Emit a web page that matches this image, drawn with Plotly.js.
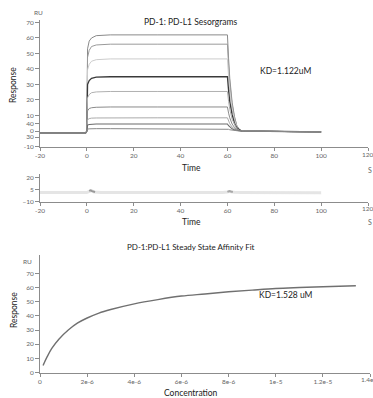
<!DOCTYPE html>
<html>
<head>
<meta charset="utf-8">
<script src="https://cdn.plot.ly/plotly-3.0.1.min.js"></script>
<style>html,body{margin:0;padding:0;background:#fff;overflow:hidden;}#chart{width:373px;height:398px;}</style>
</head>
<body>
<div id="chart"></div>
<script>
// ---- Sensorgram data (time in s, response in RU) ----
const sensTime = [-20, -0.5, 0, 0.3, 1, 2, 4, 10, 30, 60, 60.5, 61, 62, 63, 64, 65, 66, 100];
const sens62   = [-1.2, -1.2, 0, 53, 58, 60, 61.5, 62, 62, 62, 46.5, 34, 18.5, 9.5, 3.5, 1, 0, -0.6];
const sens56   = [-1.2, -1.2, 0, 47.5, 52, 54.5, 55.5, 56, 56, 56, 42, 31, 17, 8.5, 3.5, 1, 0, -0.6];
const sens46   = [-1.2, -1.2, 0, 39.5, 43, 45, 46, 46.5, 46.5, 46.5, 35, 25.5, 14, 7, 3, 1, 0, -0.6];
const sens35   = [-1.2, -1.2, 0, 30, 32.5, 34, 34.7, 35, 35, 35, 26, 19, 10.5, 5, 2, 0.7, 0, -0.6];
const sens25   = [-1.2, -1.2, 0, 21.5, 23.5, 24.7, 25.2, 25.5, 25.5, 25.5, 19, 14, 7.5, 4, 1.5, 0.5, 0, -0.6];
const sens15   = [-1.2, -1.2, 0, 13, 14.5, 15, 15.3, 15.5, 15.5, 15.5, 11.5, 8.5, 4.5, 2.3, 1, 0.3, 0, -0.6];
const sens8    = [-1.2, -1.2, 0, 7.2, 8, 8.3, 8.4, 8.5, 8.5, 8.5, 6.4, 4.7, 2.5, 1.3, 0.5, 0.2, 0, -0.6];
const sens4    = [-1.2, -1.2, 0, 3.8, 4.2, 4.4, 4.5, 4.5, 4.5, 4.5, 3.4, 2.5, 1.4, 0.7, 0.3, 0.1, 0, -0.6];
const sens1    = [-1.2, -1.2, 0, 1.2, 1.4, 1.5, 1.5, 1.5, 1.5, 1.5, 1.1, 0.8, 0.5, 0.2, 0.1, 0, 0, -0.6];
const sensSeries = [sens62, sens56, sens46, sens35, sens25, sens15, sens8, sens4, sens1];

// top y-axis tick labels as printed
const topTickVals = [70, 60, 50, 40, 30, 20, 10, 5, 0, -4, -10];
const topTickText = ["70", "60", "50", "40", "30", "20", "10", "40", "0", "30", "-10"];
const timeTickVals = [-20, 0, 20, 40, 60, 80, 100, 120];
const timeTickText = ["-20", "0", "20", "40", "60", "80", "100", "120"];

// ---- Residuals ----
const resTime = [-20, -10, 0, 1, 2, 3, 4, 6, 10, 20, 30, 40, 50, 58, 60, 61, 62, 63, 66, 70, 80, 90, 100];
const resVal  = [1.2, 1.3, 1.2, 2.5, 3.5, 2.0, 1.5, 1.4, 1.3, 1.2, 1.2, 1.0, 1.1, 1.3, 1.8, 2.6, 2.0, 1.6, 1.4, 1.3, 1.2, 1.1, 1.0];
const resBlobTime = [1, 1.6, 2.2, 2.8, 3.5, 60, 60.8, 61.5, 62.3];
const resBlobVal  = [3.2, 4.0, 3.0, 2.2, 1.8, 2.0, 3.0, 2.4, 1.8];
const resTickVals = [20, 5, -10];

// ---- Steady state affinity fit ----
const conc = [0.13e-6, 0.3e-6, 0.5e-6, 0.8e-6, 1.2e-6, 1.6e-6, 2e-6, 2.5e-6, 3e-6, 4e-6, 5e-6, 6e-6, 7e-6, 8e-6, 9e-6, 1e-5, 1.1e-5, 1.2e-5, 1.34e-5];
const fitResp = [5, 11, 17, 23.5, 30, 35, 38.5, 42, 44.5, 48.5, 51.5, 54, 55.5, 57, 58.2, 59.3, 60, 60.6, 61.3];
const concTickVals = [0, 2e-6, 4e-6, 6e-6, 8e-6, 1e-5, 1.2e-5, 1.4e-5];
const concTickText = ["0", "2e-6", "4e-6", "6e-6", "8e-6", "1e-5", "1.2e-5", "1.4e-5"];
const respTickVals = [0, 10, 20, 30, 40, 50, 60, 70];

const W = 373, H = 398;
const px = x => x / W;
const py = y => 1 - y / H;

const sensColors = ['#8a8a8a', '#9a9a9a', '#cccccc', '#3a3a3a', '#b0b0b0', '#8a8a8a', '#aaaaaa', '#6a6a6a', '#888888'];
const sensWidths = [1, 1, 1, 1.3, 1, 1, 1, 1.1, 1];

const traces = [];
sensSeries.forEach((s, i) => {
  traces.push({x: sensTime, y: s, type: 'scatter', mode: 'lines', xaxis: 'x', yaxis: 'y',
    line: {color: sensColors[i], width: sensWidths[i]}, hoverinfo: 'skip'});
});
traces.push({x: resTime, y: resVal, type: 'scatter', mode: 'lines', xaxis: 'x2', yaxis: 'y2',
  line: {color: 'rgba(170,170,170,0.3)', width: 3}, hoverinfo: 'skip'});
traces.push({x: resBlobTime.slice(0,5), y: resBlobVal.slice(0,5), type: 'scatter', mode: 'lines', xaxis: 'x2', yaxis: 'y2',
  line: {color: 'rgba(90,90,90,0.55)', width: 2}, hoverinfo: 'skip'});
traces.push({x: resBlobTime.slice(5), y: resBlobVal.slice(5), type: 'scatter', mode: 'lines', xaxis: 'x2', yaxis: 'y2',
  line: {color: 'rgba(90,90,90,0.45)', width: 2}, hoverinfo: 'skip'});
traces.push({x: conc, y: fitResp, type: 'scatter', mode: 'lines', xaxis: 'x3', yaxis: 'y3',
  line: {color: '#707070', width: 1.4, shape: 'spline'}, hoverinfo: 'skip'});

const tickFont = {family: 'Lato, sans-serif', size: 6.5, color: '#666'};
const axBase = {showline: true, linecolor: '#8c8c8c', linewidth: 1, showgrid: false, zeroline: false,
  ticks: 'outside', ticklen: 3, tickcolor: '#8c8c8c', tickwidth: 1, tickfont: tickFont, fixedrange: true};

const layout = {
  width: W, height: H, margin: {l: 0, r: 0, t: 0, b: 0},
  paper_bgcolor: '#fff', plot_bgcolor: '#fff', showlegend: false,
  xaxis: Object.assign({}, axBase, {domain: [px(40), px(368)], range: [-20, 120], anchor: 'y',
    tickmode: 'array', tickvals: timeTickVals, ticktext: timeTickText}),
  yaxis: Object.assign({}, axBase, {domain: [py(146.5), py(20)], range: [-10, 71.6], anchor: 'x',
    tickmode: 'array', tickvals: topTickVals, ticktext: topTickText, ticklen: 4}),
  xaxis2: Object.assign({}, axBase, {domain: [px(40), px(368)], range: [-20, 120], anchor: 'y2',
    tickmode: 'array', tickvals: timeTickVals, ticktext: timeTickText}),
  yaxis2: Object.assign({}, axBase, {domain: [py(201.5), py(173.5)], range: [-10, 25], anchor: 'x2',
    tickmode: 'array', tickvals: resTickVals, ticklen: 4}),
  xaxis3: Object.assign({}, axBase, {domain: [px(40), px(370)], range: [0, 1.4e-5], anchor: 'y3',
    tickmode: 'array', tickvals: concTickVals, ticktext: concTickText}),
  yaxis3: Object.assign({}, axBase, {domain: [py(372.5), py(255)], range: [0, 83], anchor: 'x3',
    tickmode: 'array', tickvals: respTickVals, ticklen: 4}),
  annotations: []
};

const labFont = (s, c) => ({family: 'Lato, sans-serif', size: s, color: c || '#222'});
function ann(text, x, y, size, opts) {
  layout.annotations.push(Object.assign({text: text, x: px(x), y: py(y), xref: 'paper', yref: 'paper',
    showarrow: false, xanchor: 'center', yanchor: 'middle', font: labFont(size)}, opts || {}));
}
ann('PD-1: PD-L1 Sesorgrams', 190, 22, 8.5);
ann('RU', 38, 12, 6.5, {font: labFont(6.5, '#666')});
ann('Response', 13, 85, 8.5, {textangle: -90});
ann('KD=1.122uM', 285, 71, 8.5);
ann('Time', 191, 168, 8.5);
ann('S', 370, 170, 7, {font: labFont(7, '#666')});
ann('Time', 191, 222, 8.5);
ann('S', 370, 222, 7, {font: labFont(7, '#666')});
ann('PD-1:PD-L1 Steady State Affinity Fit', 191, 247, 8);
ann('RU', 27, 261, 6.5, {font: labFont(6.5, '#666')});
ann('Response', 14, 310, 8.5, {textangle: -90});
ann('KD=1.528 uM', 286, 295, 8.5);
ann('Concentration', 191, 393, 8.5);
// end-of-axis tick labels that run off the right edge of the page
ann(timeTickText[7], 368, 154.5, 6.5, {font: tickFont});
ann(timeTickText[7], 368, 208.5, 6.5, {font: tickFont});
ann(concTickText[7], 370, 379.5, 6.5, {font: tickFont});

Plotly.newPlot('chart', traces, layout, {staticPlot: true, displayModeBar: false});
</script>
</body>
</html>
